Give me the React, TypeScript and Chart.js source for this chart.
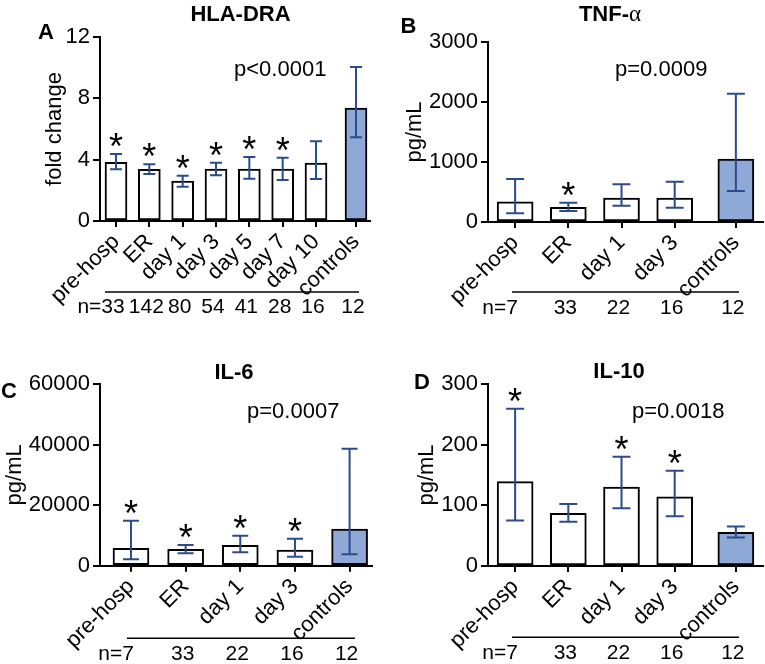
import React, { useEffect, useRef } from 'react';
import { Chart, registerables } from 'chart.js';

Chart.register(...registerables);

const FONT = '"Liberation Sans", Arial, Helvetica, sans-serif';
const ERR_COLOR = '#2a4c8b';
const CTRL_COLOR = '#8ea9d6';

// ---------- Panel A : HLA-DRA ----------
const labelsA = ['pre-hosp', 'ER', 'day 1', 'day 3', 'day 5', 'day 7', 'day 10', 'controls'];
const xposA = [0, 1, 2, 3, 4, 5, 6, 7.2];
const meanA = [3.83, 3.37, 2.61, 3.39, 3.39, 3.39, 3.78, 7.37];
const lowA = [3.37, 3.07, 2.24, 2.98, 2.76, 2.67, 2.74, 5.46];
const highA = [4.37, 3.7, 2.95, 3.8, 4.17, 4.13, 5.2, 10.05];
const starsA = [true, true, true, true, true, true, false, false];
const nA = [33, 142, 80, 54, 41, 28, 16, 12];
const yTicksA = [0, 4, 8, 12];

// ---------- Panel B : TNF-alpha ----------
const labelsB = ['pre-hosp', 'ER', 'day 1', 'day 3', 'controls'];
const xposB = [0, 1, 2, 3, 4.15];
const meanB = [338, 245, 400, 400, 1050];
const lowB = [145, 183, 272, 238, 517];
const highB = [717, 322, 628, 672, 2139];
const starsB = [false, true, false, false, false];
const nB = [7, 33, 22, 16, 12];
const yTicksB = [0, 1000, 2000, 3000];

// ---------- Panel C : IL-6 ----------
const labelsC = ['pre-hosp', 'ER', 'day 1', 'day 3', 'controls'];
const xposC = [0, 1, 2, 3, 4];
const meanC = [5750, 5400, 6730, 5180, 12120];
const lowC = [2100, 4090, 4420, 2970, 3760];
const highC = [14860, 6830, 9910, 8920, 38640];
const starsC = [true, true, true, true, false];
const nC = [7, 33, 22, 16, 12];
const yTicksC = [0, 20000, 40000, 60000];

// ---------- Panel D : IL-10 ----------
const labelsD = ['pre-hosp', 'ER', 'day 1', 'day 3', 'controls'];
const xposD = [0, 1, 2, 3, 4.15];
const meanD = [139, 87, 130, 114, 55.5];
const lowD = [75, 73, 95, 82, 47];
const highD = [259, 102, 180, 157, 65];
const starsD = [true, false, true, true, false];
const nD = [7, 33, 22, 16, 12];
const yTicksD = [0, 100, 200, 300];

type Panel = {
  left: number; top: number; w: number; h: number;
  letter: string; letterX: number; letterY: number;
  title: string; titleSuffix?: string; titleX: number; titleY: number;
  pText: string; pX: number; pY: number;
  yTitle: string;
  labels: string[]; xs: number[]; mean: number[]; low: number[]; high: number[];
  stars: boolean[]; ns: number[]; yTicks: number[];
  xMin: number; xMax: number;
  padL: number; yW: number; padT: number; padR: number; xH: number;
  barW: number; cap: number;
  nLineY: number; nTextY: number; nLine: [number, number];
};

const panels: Panel[] = [
  {
    left: 0, top: 0, w: 382, h: 332,
    letter: 'A', letterX: 46, letterY: 33,
    title: 'HLA-DRA', titleX: 240.5, titleY: 15,
    pText: 'p<0.0001', pX: 234, pY: 70,
    yTitle: 'fold change',
    labels: labelsA, xs: xposA, mean: meanA, low: lowA, high: highA,
    stars: starsA, ns: nA, yTicks: yTicksA,
    xMin: -0.48, xMax: 7.62,
    padL: 42, yW: 58, padT: 37, padR: 12, xH: 111,
    barW: 22, cap: 12,
    nLineY: 292, nTextY: 307, nLine: [105, 359],
  },
  {
    left: 382, top: 0, w: 383, h: 332,
    letter: 'B', letterX: 26.5, letterY: 27,
    title: 'TNF-', titleSuffix: 'α', titleX: 228, titleY: 15,
    pText: 'p=0.0009', pX: 233, pY: 70,
    yTitle: 'pg/mL',
    labels: labelsB, xs: xposB, mean: meanB, low: lowB, high: highB,
    stars: starsB, ns: nB, yTicks: yTicksB,
    xMin: -0.51, xMax: 4.66,
    padL: 20, yW: 86, padT: 42, padR: 2, xH: 110,
    barW: 36, cap: 18,
    nLineY: 292, nTextY: 308, nLine: [130, 357],
  },
  {
    left: 0, top: 332, w: 382, h: 332,
    letter: 'C', letterX: 9, letterY: 60,
    title: 'IL-6', titleX: 234, titleY: 41,
    pText: 'p=0.0007', pX: 247, pY: 80,
    yTitle: 'pg/mL',
    labels: labelsC, xs: xposC, mean: meanC, low: lowC, high: highC,
    stars: starsC, ns: nC, yTicks: yTicksC,
    xMin: -0.567, xMax: 4.41,
    padL: 1.5, yW: 98.5, padT: 52, padR: 10, xH: 98.3,
    barW: 36, cap: 16,
    nLineY: 306.3, nTextY: 322, nLine: [127, 355],
  },
  {
    left: 382, top: 332, w: 383, h: 332,
    letter: 'D', letterX: 40, letterY: 51,
    title: 'IL-10', titleX: 237, titleY: 40,
    pText: 'p=0.0018', pX: 250, pY: 80,
    yTitle: 'pg/mL',
    labels: labelsD, xs: xposD, mean: meanD, low: lowD, high: highD,
    stars: starsD, ns: nD, yTicks: yTicksD,
    xMin: -0.51, xMax: 4.66,
    padL: 32, yW: 74, padT: 52, padR: 2, xH: 98,
    barW: 36, cap: 18,
    nLineY: 305.3, nTextY: 321, nLine: [130, 357],
  },
];

function overlayPlugin(p: Panel) {
  return {
    id: 'overlay' + p.letter,
    afterDatasetsDraw(chart: any) {
      const { ctx, scales } = chart;
      const xs = scales.x;
      const ys = scales.y;
      ctx.save();
      // error bars
      ctx.strokeStyle = ERR_COLOR;
      ctx.lineWidth = 2;
      p.xs.forEach((v, i) => {
        const px = xs.getPixelForValue(v);
        const yl = ys.getPixelForValue(p.low[i]);
        const yh = ys.getPixelForValue(p.high[i]);
        ctx.beginPath();
        ctx.moveTo(px, yl);
        ctx.lineTo(px, yh);
        ctx.moveTo(px - p.cap / 2, yh);
        ctx.lineTo(px + p.cap / 2, yh);
        ctx.moveTo(px - p.cap / 2, yl);
        ctx.lineTo(px + p.cap / 2, yl);
        ctx.stroke();
      });
      // asterisks
      ctx.fillStyle = '#000';
      const starSize = 36;
      ctx.font = `${starSize}px ${FONT}`;
      ctx.textAlign = 'center';
      ctx.textBaseline = 'alphabetic';
      p.stars.forEach((s, i) => {
        if (!s) return;
        const px = xs.getPixelForValue(p.xs[i]);
        const yh = ys.getPixelForValue(p.high[i]);
        ctx.fillText('*', px, yh - 16 + 0.58 * starSize);
      });
      ctx.restore();
    },
    afterDraw(chart: any) {
      const { ctx, scales } = chart;
      const xs = scales.x;
      ctx.save();
      ctx.fillStyle = '#000';
      ctx.textBaseline = 'middle';
      // panel letter
      ctx.font = `bold 22px ${FONT}`;
      ctx.textAlign = 'center';
      ctx.fillText(p.letter, p.letterX, p.letterY);
      // title
      ctx.font = `bold 22px ${FONT}`;
      const w1 = ctx.measureText(p.title).width;
      let w2 = 0;
      const suffixFont = `23px "Liberation Serif", "DejaVu Serif", serif`;
      if (p.titleSuffix) {
        ctx.font = suffixFont;
        w2 = ctx.measureText(p.titleSuffix).width;
      }
      const startX = p.titleX - (w1 + w2) / 2;
      ctx.textAlign = 'left';
      ctx.font = `bold 22px ${FONT}`;
      ctx.fillText(p.title, startX, p.titleY);
      if (p.titleSuffix) {
        ctx.font = suffixFont;
        ctx.fillText(p.titleSuffix, startX + w1, p.titleY);
      }
      // p-value
      ctx.font = `22px ${FONT}`;
      ctx.textAlign = 'left';
      ctx.fillText(p.pText, p.pX, p.pY);
      // n row
      ctx.strokeStyle = '#000';
      ctx.lineWidth = 1.5;
      ctx.beginPath();
      ctx.moveTo(p.nLine[0], p.nLineY);
      ctx.lineTo(p.nLine[1], p.nLineY);
      ctx.stroke();
      ctx.font = `21px ${FONT}`;
      ctx.textAlign = 'center';
      p.ns.forEach((n, i) => {
        const px = xs.getPixelForValue(p.xs[i]) - 3;
        ctx.fillText(String(n), px, p.nTextY);
        if (i === 0) {
          const half = ctx.measureText(String(n)).width / 2;
          ctx.textAlign = 'right';
          ctx.fillText('n=', px - half, p.nTextY);
          ctx.textAlign = 'center';
        }
      });
      ctx.restore();
    },
  };
}

function makeConfig(p: Panel): any {
  const tickFont = { family: FONT, size: 22 };
  return {
    type: 'bar',
    data: {
      datasets: [
        {
          data: p.xs.map((x, i) => ({ x, y: p.mean[i] })),
          backgroundColor: p.xs.map((_, i) => (i === p.xs.length - 1 ? CTRL_COLOR : '#ffffff')),
          borderColor: '#000',
          borderWidth: 2,
          borderSkipped: false,
          barThickness: p.barW,
        },
      ],
    },
    options: {
      responsive: false,
      animation: false,
      layout: { padding: { left: p.padL, top: p.padT, right: p.padR, bottom: 0 } },
      plugins: {
        legend: { display: false },
        tooltip: { enabled: false },
        title: { display: false },
      },
      scales: {
        x: {
          type: 'linear',
          min: p.xMin,
          max: p.xMax,
          offset: false,
          afterBuildTicks: (s: any) => {
            s.ticks = p.xs.map((v) => ({ value: v }));
          },
          afterFit: (s: any) => {
            s.height = p.xH;
          },
          ticks: {
            autoSkip: false,
            minRotation: 45,
            maxRotation: 45,
            padding: 2,
            color: '#000',
            font: tickFont,
            callback: (_v: any, i: number) => p.labels[i],
          },
          grid: {
            display: true,
            offset: false,
            drawOnChartArea: false,
            drawTicks: true,
            tickLength: 6,
            color: '#000',
            lineWidth: 2,
          },
          border: { display: true, color: '#000', width: 2 },
        },
        y: {
          type: 'linear',
          min: p.yTicks[0],
          max: p.yTicks[p.yTicks.length - 1],
          afterBuildTicks: (s: any) => {
            s.ticks = p.yTicks.map((v) => ({ value: v }));
          },
          afterFit: (s: any) => {
            s.width = p.yW;
          },
          ticks: {
            padding: 3,
            color: '#000',
            font: tickFont,
            callback: (v: any) => String(v),
          },
          title: {
            display: true,
            text: p.yTitle,
            color: '#000',
            font: { family: FONT, size: 22 },
            padding: 0,
          },
          grid: {
            display: true,
            drawOnChartArea: false,
            drawTicks: true,
            tickLength: 7,
            color: '#000',
            lineWidth: 2,
          },
          border: { display: true, color: '#000', width: 2 },
        },
      },
    },
    plugins: [overlayPlugin(p)],
  };
}

function PanelChart({ p }: { p: Panel }) {
  const ref = useRef<HTMLCanvasElement>(null);
  useEffect(() => {
    if (!ref.current) return;
    const chart = new Chart(ref.current, makeConfig(p));
    return () => chart.destroy();
  }, [p]);
  return (
    <div style={{ position: 'absolute', left: p.left, top: p.top, width: p.w, height: p.h }}>
      <canvas ref={ref} width={p.w} height={p.h} style={{ display: 'block' }} />
    </div>
  );
}

export default function App() {
  return (
    <div style={{ position: 'absolute', left: 0, top: 0, width: 765, height: 664, background: '#fff' }}>
      {panels.map((p) => (
        <PanelChart key={p.letter} p={p} />
      ))}
    </div>
  );
}
